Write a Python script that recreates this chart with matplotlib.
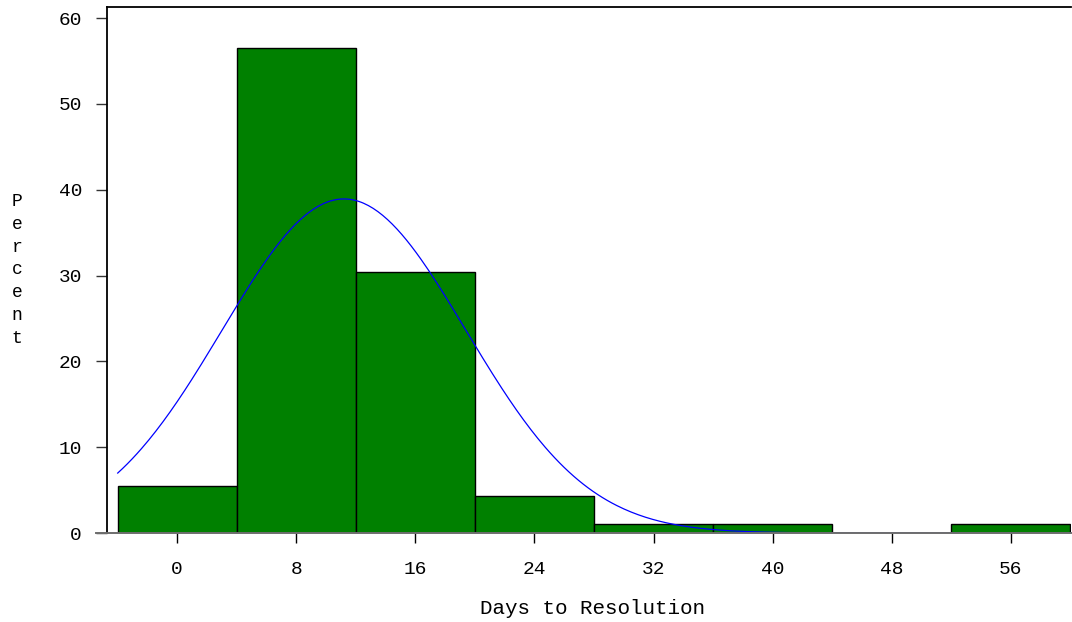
import numpy as np
import matplotlib
matplotlib.use("Agg")
import matplotlib.pyplot as plt

# Data
bin_centers = [0, 8, 16, 24, 32, 40, 48, 56]
percents = [5.43, 56.52, 30.43, 4.35, 1.09, 1.09, 0.0, 1.09]
bin_width = 8
x_ticks = [0, 8, 16, 24, 32, 40, 48, 56]
y_ticks = [0, 10, 20, 30, 40, 50, 60]
fit_mean = 11.2   # fitted normal curve parameters
fit_sd = 8.2

FONT = ["Liberation Mono", "DejaVu Sans Mono"]
plt.rcParams["font.family"] = FONT

W, H = 1072, 622
fig = plt.figure(figsize=(W / 100, H / 100), dpi=100)
left, right, top, bottom = 107, 1071, 7.3, 533
ax = fig.add_axes([left / W, 1 - bottom / H, (right - left) / W, (bottom - top) / H])

ax.bar(bin_centers, percents, width=bin_width, color="#008000",
       edgecolor="black", linewidth=1.0, zorder=2)

xs = np.linspace(bin_centers[0] - bin_width / 2, bin_centers[-1] + bin_width / 2, 400)
ys = 100 * bin_width * np.exp(-0.5 * ((xs - fit_mean) / fit_sd) ** 2) / (fit_sd * np.sqrt(2 * np.pi))
ax.plot(xs, ys, color="#0000ff", linewidth=0.9, zorder=3)

ax.set_xlim(-4.72, 60.05)
ax.set_ylim(0, 61.25)

for s in ["right", "bottom"]:
    ax.spines[s].set_visible(False)
for s in ["left", "top"]:
    ax.spines[s].set_linewidth(1.3)
    ax.spines[s].set_color("black")

ax.plot([-0.0114, 1.0], [0, 0], transform=ax.transAxes, color="#6e6e6e",
        linewidth=1.4, clip_on=False, zorder=4)

ax.set_xticks(x_ticks)
ax.set_xticklabels([str(v) for v in x_ticks])
ax.set_yticks(y_ticks)
ax.set_yticklabels([str(v) for v in y_ticks])
ax.tick_params(axis="x", length=7.5, width=1.0, color="black", pad=13, labelsize=14)
ax.tick_params(axis="y", length=8, width=1.0, color="#333333", pad=10, labelsize=14)

fig.text(593 / W, 1 - 608 / H, "Days to Resolution", ha="center", va="center",
         fontsize=15)
fig.text(17 / W, 1 - 270 / H, "P\ne\nr\nc\ne\nn\nt", ha="center", va="center",
         fontsize=13, linespacing=1.45)

fig.savefig("out.png", dpi=100)
